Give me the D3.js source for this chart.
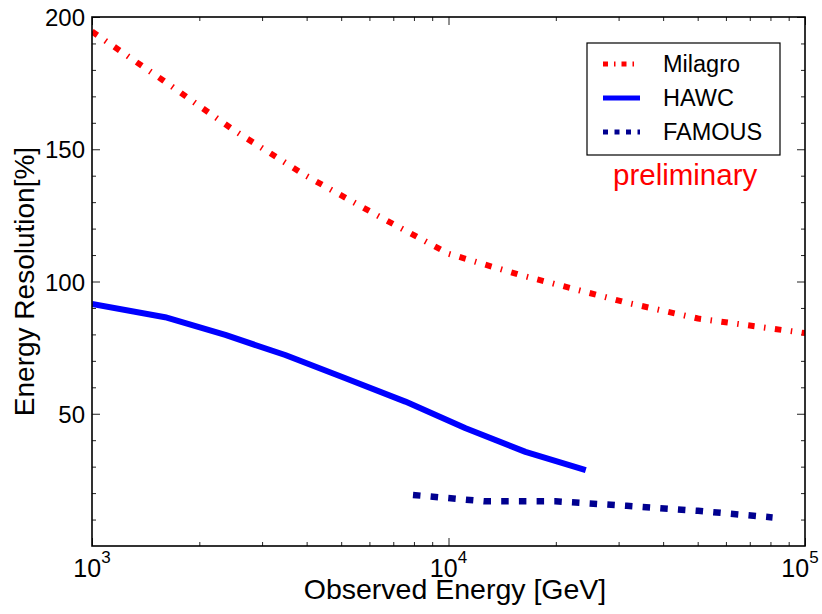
<!DOCTYPE html>
<html>
<head>
<meta charset="utf-8">
<script src="https://cdn.jsdelivr.net/npm/d3@7"></script>
<style>
body { margin: 0; background: #fff; }
text { font-family: "Liberation Sans", Arial, Helvetica, sans-serif; }
</style>
</head>
<body>
<svg id="chart" width="822" height="614"></svg>
<script>
// energy in GeV, resolution in %
var milagroE   = [1000, 1585, 2512, 3981, 6310, 10000, 15850, 31620, 50120, 100000];
var milagroRes = [194.5, 176, 157, 140, 125, 110.5, 102.5, 92, 86, 80.5];

var hawcE   = [1000, 1603, 2366, 3483, 5140, 7568, 11170, 16440, 24270];
var hawcRes = [91.5, 86.5, 79.8, 72.2, 63.4, 54.6, 44.5, 35.6, 28.7];

var famousE   = [7950, 12590, 19950, 31620, 50120, 81100];
var famousRes = [19.3, 16.9, 16.9, 15.2, 13.3, 10.8];

var xMajor = [1e3, 1e4, 1e5];
var xExp   = ["3", "4", "5"];
var yMajor = [50, 100, 150, 200];

var series = [
  {name: "Milagro", e: milagroE, r: milagroRes, color: "#ff0000", width: 6, dash: "6.5,9.5,1.5,9.5", legDash: "5,6,1.5,6"},
  {name: "HAWC",    e: hawcE,    r: hawcRes,    color: "#0000ff", width: 6, dash: null, legDash: null},
  {name: "FAMOUS",  e: famousE,  r: famousRes,  color: "#000090", width: 6.5, dash: "7.5,10.2", legDash: "5,6.5"}
];

var svg = d3.select("#chart");
var pLeft = 92, pRight = 805, pTop = 17, pBottom = 546;

var x = d3.scaleLog().domain([1e3, 1e5]).range([pLeft, pRight]);
var y = d3.scaleLinear().domain([0, 200]).range([pBottom, pTop]);

svg.append("clipPath").attr("id", "plotclip")
  .append("rect")
  .attr("x", pLeft).attr("y", pTop)
  .attr("width", pRight - pLeft).attr("height", pBottom - pTop);

// minor ticks
var xMinor = [];
[1e3, 1e4].forEach(function(d) {
  for (var k = 2; k <= 9; k++) xMinor.push(d * k);
});
var yMinor = d3.range(10, 200, 10).filter(function(v) { return v % 50 !== 0; });

function tickStyle(g) {
  g.select(".domain").remove();
  g.selectAll("line").attr("stroke", "#222").attr("stroke-width", 1);
}

svg.append("g").attr("transform", "translate(0," + pBottom + ")")
  .call(d3.axisBottom(x).tickValues(xMinor).tickSize(-4).tickFormat(""))
  .call(tickStyle);
svg.append("g").attr("transform", "translate(0," + pBottom + ")")
  .call(d3.axisBottom(x).tickValues(xMajor).tickSize(-8).tickFormat(""))
  .call(tickStyle);
svg.append("g").attr("transform", "translate(0," + pTop + ")")
  .call(d3.axisTop(x).tickValues(xMinor).tickSize(-4).tickFormat(""))
  .call(tickStyle);
svg.append("g").attr("transform", "translate(0," + pTop + ")")
  .call(d3.axisTop(x).tickValues(xMajor).tickSize(-8).tickFormat(""))
  .call(tickStyle);

svg.append("g").attr("transform", "translate(" + pLeft + ",0)")
  .call(d3.axisLeft(y).tickValues(yMinor).tickSize(-4).tickFormat(""))
  .call(tickStyle);
var yAxis = svg.append("g").attr("transform", "translate(" + pLeft + ",0)")
  .call(d3.axisLeft(y).tickValues(yMajor).tickSize(-8).tickPadding(7))
  .call(tickStyle);
yAxis.attr("font-size", null).attr("font-family", null);
yAxis.selectAll("text")
  .attr("font-size", "24px")
  .attr("fill", "#000")
  .attr("dy", "0.36em");
svg.append("g").attr("transform", "translate(" + pRight + ",0)")
  .call(d3.axisRight(y).tickValues(yMinor).tickSize(-4).tickFormat(""))
  .call(tickStyle);
svg.append("g").attr("transform", "translate(" + pRight + ",0)")
  .call(d3.axisRight(y).tickValues(yMajor).tickSize(-8).tickFormat(""))
  .call(tickStyle);

// x tick labels with superscripts (last one kept inside the window)
var xl = svg.append("g").selectAll("text")
  .data(xMajor)
  .enter()
  .append("text")
  .attr("x", function(d) { return Math.min(x(d), 800); })
  .attr("y", 577)
  .attr("text-anchor", "middle")
  .attr("font-size", "25px");
xl.append("tspan").text("10");
xl.append("tspan")
  .attr("dy", -14)
  .attr("font-size", "17px")
  .text(function(d, i) { return xExp[i]; });

// curves
var line = d3.line()
  .x(function(d) { return x(d[0]); })
  .y(function(d) { return y(d[1]); });

svg.append("g").attr("clip-path", "url(#plotclip)")
  .selectAll("path")
  .data(series)
  .enter()
  .append("path")
  .attr("d", function(s) { return line(d3.zip(s.e, s.r)); })
  .attr("fill", "none")
  .attr("stroke", function(s) { return s.color; })
  .attr("stroke-width", function(s) { return s.width; })
  .attr("stroke-dasharray", function(s) { return s.dash; })
  .attr("stroke-linejoin", "round");

// frame
svg.append("rect")
  .attr("x", pLeft).attr("y", pTop)
  .attr("width", pRight - pLeft).attr("height", pBottom - pTop)
  .attr("fill", "none")
  .attr("stroke", "#000")
  .attr("stroke-width", 1.6);

// legend
var leg = svg.append("g");
leg.append("rect")
  .attr("x", 587).attr("y", 43)
  .attr("width", 193).attr("height", 112)
  .attr("fill", "#fff")
  .attr("stroke", "#000")
  .attr("stroke-width", 1.2);
var legY = [64, 98, 132];
var items = leg.selectAll("g.item")
  .data(series)
  .enter()
  .append("g")
  .attr("class", "item")
  .attr("transform", function(d, i) { return "translate(0," + legY[i] + ")"; });
items.append("line")
  .attr("x1", 603).attr("x2", 640)
  .attr("y1", 0).attr("y2", 0)
  .attr("stroke", function(s) { return s.color; })
  .attr("stroke-width", 5)
  .attr("stroke-dasharray", function(s) { return s.legDash; });
items.append("text")
  .attr("x", 663)
  .attr("y", 0)
  .attr("dy", "0.36em")
  .attr("font-size", "23.5px")
  .text(function(s) { return s.name; });

svg.append("text")
  .attr("x", 613).attr("y", 185)
  .attr("font-size", "29.5px")
  .attr("fill", "#ff0000")
  .text("preliminary");

// axis titles
svg.append("text")
  .attr("x", 455).attr("y", 599)
  .attr("text-anchor", "middle")
  .attr("font-size", "28.5px")
  .text("Observed Energy [GeV]");
svg.append("text")
  .attr("transform", "translate(34," + ((pTop + pBottom) / 2) + ") rotate(-90)")
  .attr("text-anchor", "middle")
  .attr("font-size", "28px")
  .text("Energy Resolution[%]");
</script>
</body>
</html>
